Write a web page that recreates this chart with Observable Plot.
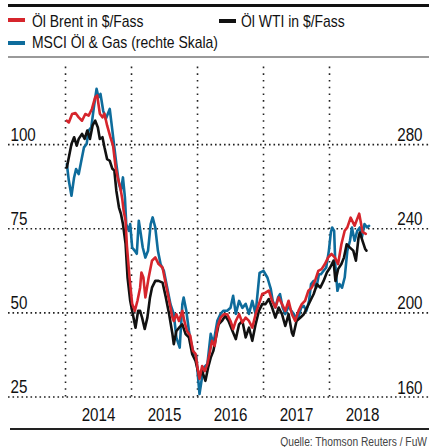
<!DOCTYPE html>
<html>
<head>
<meta charset="utf-8">
<script src="https://cdn.jsdelivr.net/npm/d3@7"></script>
<script src="https://cdn.jsdelivr.net/npm/@observablehq/plot@0.6"></script>
<style>
  html, body { margin: 0; padding: 0; background: #fff; }
  body { width: 429px; height: 447px; position: relative; overflow: hidden;
         font-family: "Liberation Sans", Arial, sans-serif; color: #111; }
  .abs { position: absolute; }
  .lg { position: absolute; font-size: 17px; line-height: 17px; white-space: nowrap; color: #111;
        transform: scaleX(0.82); transform-origin: 0 50%; }
  .sw { position: absolute; width: 17px; }
  #chart { position: absolute; left: 0; top: 60px; }
</style>
</head>
<body>
<div class="abs" style="left:8px; top:4px; width:421px; height:3.3px; background:#111"></div>
<div class="sw" style="left:8px; top:18px; height:4px; background:#d6252c"></div>
<div class="lg" style="left:32px; top:13px">Öl Brent in $/Fass</div>
<div class="sw" style="left:219px; top:18.5px; height:4px; background:#111"></div>
<div class="lg" style="left:241px; top:13px">Öl WTI in $/Fass</div>
<div class="sw" style="left:8px; top:40.5px; height:4px; background:#0e6c9c"></div>
<div class="lg" style="left:32px; top:34px">MSCI Öl &amp; Gas (rechte Skala)</div>
<div class="abs" style="left:8px; top:56px; width:421px; height:1.5px; background:#9a9a9a"></div>
<div id="chart"></div>
<div class="abs" style="left:10px; top:427.5px; width:419px; height:2px; background:#222"></div>
<div class="abs" style="right:2px; top:435.5px; font-size:12.5px; line-height:12px; color:#444; white-space:nowrap; transform:scaleX(0.82); transform-origin:100% 50%">Quelle: Thomson Reuters / FuW</div>
<script>
// Time in decimal years
const brentT = [2014.02,2014.05,2014.10,2014.15,2014.20,2014.25,2014.30,2014.35,2014.40,2014.45,2014.48,2014.52,2014.56,2014.59,2014.63,2014.68,2014.72,2014.76,2014.79,2014.83,2014.86,2014.88,2014.91,2014.93,2014.97,
  2015.01,2015.05,2015.09,2015.13,2015.15,2015.18,2015.21,2015.26,2015.31,2015.36,2015.41,2015.47,2015.52,2015.57,2015.62,2015.64,2015.68,2015.72,2015.77,2015.80,2015.84,2015.89,2015.93,2015.97,
  2016.00,2016.03,2016.07,2016.11,2016.15,2016.19,2016.22,2016.26,2016.30,2016.35,2016.40,2016.45,2016.50,2016.54,2016.58,2016.63,2016.68,2016.73,2016.78,2016.83,2016.88,2016.93,2016.98,
  2017.03,2017.08,2017.13,2017.18,2017.23,2017.28,2017.33,2017.38,2017.43,2017.48,2017.53,2017.58,2017.63,2017.68,2017.73,2017.78,2017.83,2017.88,2017.93,2017.98,
  2018.03,2018.08,2018.13,2018.18,2018.23,2018.27,2018.32,2018.38,2018.45,2018.50,2018.55];
const brentV = [107.1,106.6,109.1,109.4,108.1,107.1,109.1,108.6,110.6,114.1,114.6,109.2,108.1,109.2,105.7,102.2,99.7,93.2,90.3,87.3,83.8,80.4,77.4,69.9,60.5,
  52.7,50.6,53.6,57.5,62.0,60.5,54.6,60.5,65.5,66.5,64.5,63.5,58.5,53.6,48.6,47.6,49.6,47.6,50.6,47.6,44.6,43.2,38.7,37.8,
  33.7,30.4,34.2,32.7,34.8,38.7,41.7,40.2,45.6,48.6,49.6,49.6,47.6,45.2,47.6,49.6,47.1,48.6,47.6,45.6,49.6,52.6,55.6,
  56.0,56.6,53.6,51.6,54.6,52.6,50.6,53.6,49.6,47.6,50.6,52.6,53.6,56.6,57.5,59.5,62.5,63.0,64.5,66.5,
  67.5,66.5,64.5,70.4,74.4,75.4,78.3,75.9,79.5,74.1,73.5];

const wtiT = [2014.02,2014.05,2014.09,2014.13,2014.17,2014.20,2014.25,2014.29,2014.33,2014.37,2014.41,2014.45,2014.49,2014.52,2014.56,2014.59,2014.63,2014.67,2014.71,2014.74,2014.77,2014.81,2014.84,2014.87,2014.91,2014.94,2014.98,
  2015.02,2015.06,2015.10,2015.13,2015.16,2015.20,2015.24,2015.28,2015.31,2015.36,2015.41,2015.47,2015.52,2015.57,2015.62,2015.64,2015.68,2015.72,2015.77,2015.82,2015.87,2015.92,2015.97,
  2016.03,2016.07,2016.12,2016.16,2016.20,2016.24,2016.27,2016.32,2016.37,2016.42,2016.47,2016.53,2016.58,2016.63,2016.68,2016.73,2016.78,2016.83,2016.88,2016.93,2016.98,
  2017.03,2017.08,2017.13,2017.18,2017.23,2017.28,2017.33,2017.38,2017.43,2017.45,2017.50,2017.56,2017.61,2017.66,2017.71,2017.76,2017.81,2017.86,2017.91,2017.96,
  2018.01,2018.06,2018.09,2018.13,2018.18,2018.22,2018.26,2018.31,2018.36,2018.40,2018.44,2018.46,2018.50,2018.54,2018.56];
const wtiV = [93.2,96.2,100.2,102.2,99.7,101.7,103.2,101.7,104.2,101.7,105.7,107.1,105.1,101.7,102.2,99.2,95.7,95.2,92.8,92.3,86.3,81.3,79.4,76.4,70.5,60.5,53.6,
  49.6,45.6,50.6,50.6,48.6,45.2,48.6,54.6,57.5,59.5,59.5,59.0,54.6,49.6,43.7,40.7,44.6,45.6,46.6,43.7,42.7,37.7,35.7,
  30.9,32.7,29.8,33.7,36.7,38.7,41.7,46.6,47.6,49.1,47.6,44.6,42.2,46.6,47.6,42.7,45.6,41.7,46.6,50.6,52.6,
  52.6,54.1,51.6,48.6,51.6,49.6,46.1,49.6,44.1,43.2,47.6,48.6,49.6,51.6,53.6,55.6,58.5,57.5,59.5,62.0,
  63.5,65.5,59.5,63.0,64.5,66.5,70.4,69.4,68.5,65.5,72.4,73.9,71.4,69.0,68.5];

const msciT = [2014.02,2014.05,2014.09,2014.13,2014.16,2014.20,2014.24,2014.28,2014.32,2014.35,2014.39,2014.43,2014.47,2014.50,2014.53,2014.57,2014.61,2014.64,2014.67,2014.71,2014.74,2014.77,2014.81,2014.84,2014.87,2014.90,2014.92,2014.96,2014.98,
  2015.01,2015.05,2015.08,2015.11,2015.14,2015.17,2015.21,2015.25,2015.29,2015.32,2015.36,2015.40,2015.44,2015.49,2015.54,2015.59,2015.64,2015.68,2015.73,2015.77,2015.79,2015.83,2015.87,2015.89,2015.94,2015.98,
  2016.03,2016.09,2016.15,2016.20,2016.24,2016.30,2016.35,2016.39,2016.45,2016.50,2016.54,2016.58,2016.63,2016.68,2016.73,2016.78,2016.83,2016.88,2016.94,
  2017.00,2017.06,2017.11,2017.14,2017.18,2017.22,2017.25,2017.29,2017.33,2017.38,2017.42,2017.46,2017.50,2017.53,2017.57,2017.61,2017.65,2017.69,2017.72,2017.76,2017.80,2017.84,2017.87,2017.91,2017.95,2017.99,
  2018.02,2018.04,2018.07,2018.09,2018.12,2018.15,2018.19,2018.23,2018.27,2018.31,2018.34,2018.38,2018.42,2018.46,2018.49,2018.53,2018.57,2018.60];
const msciV = [270.8,262.9,255.7,264.4,268.4,266.0,272.4,278.7,280.3,286.7,288.2,297.8,306.5,302.5,304.1,296.2,292.2,294.6,297.0,286.7,278.7,270.8,261.3,258.1,264.4,254.9,242.2,239.0,242.2,
  231.1,229.5,228.1,243.8,237.6,231.1,226.3,229.5,242.2,245.4,240.6,229.5,223.2,220.0,212.1,204.1,199.4,188.2,183.5,204.1,207.3,201.0,191.4,187.6,181.0,179.5,
  161.4,173.8,175.7,190.0,185.2,196.2,199.5,201.0,201.0,202.4,208.1,199.5,205.7,202.4,204.3,199.5,205.7,199.5,219.0,
  220.0,216.7,211.4,205.7,202.5,207.3,208.9,202.5,199.4,203.3,201.0,199.4,197.0,197.8,202.5,203.3,201.0,205.7,213.7,215.2,212.0,218.4,218.4,220.0,221.6,229.5,
  238.2,240.6,239.0,221.6,210.5,213.7,212.0,216.8,229.5,234.3,240.6,234.3,239.0,240.6,235.9,242.2,240.6,241.4];

const yearTicks = [2014, 2015, 2016, 2017, 2018];
const leftTicks = [25, 50, 75, 100];
const rightTicks = [160, 200, 240, 280];

// right scale 160..280 maps onto left 25..100
const toLeft = m => 25 + (m - 160) / 1.6;

const brent = brentT.map((t, i) => ({t, v: brentV[i]}));
const wti = wtiT.map((t, i) => ({t, v: wtiV[i]}));
const msci = msciT.map((t, i) => ({t, v: toLeft(msciV[i])}));

const X0 = 2013.136, X1 = 2019.515;
const font = '"Liberation Sans", Arial, sans-serif';

const chart = Plot.plot({
  width: 429,
  height: 364,
  marginLeft: 8,
  marginRight: 0,
  marginTop: 0,
  marginBottom: 27.5,
  x: {domain: [X0, X1], axis: null},
  y: {domain: [25, 125], axis: null},
  style: {fontFamily: font, background: "transparent", color: "#111", overflow: "visible"},
  marks: [
    Plot.ruleY(leftTicks, {stroke: "#222", strokeWidth: 1.6, strokeDasharray: "1.6,2.9"}),
    Plot.ruleX(yearTicks, {y1: 25, y2: 124.4, stroke: "#222", strokeWidth: 1.6, strokeDasharray: "1.6,5.1"}),
    Plot.line(msci, {x: "t", y: "v", stroke: "#0e6c9c", strokeWidth: 2.6, strokeLinejoin: "round"}),
    Plot.line(wti, {x: "t", y: "v", stroke: "#111", strokeWidth: 2.6, strokeLinejoin: "round"}),
    Plot.line(brent, {x: "t", y: "v", stroke: "#d6252c", strokeWidth: 2.6, strokeLinejoin: "round"}),
    Plot.text(leftTicks, {x: X0, y: d => d, text: d => String(d), textAnchor: "start", lineAnchor: "bottom",
      dx: 2, dy: -4, fontSize: 18.5, fill: "#111"}),
    Plot.text(rightTicks, {x: X1, y: d => toLeft(d), text: d => String(d), textAnchor: "end", lineAnchor: "bottom",
      dx: -7, dy: -3.5, fontSize: 18.5, fill: "#111"}),
    Plot.text(yearTicks, {x: d => d + 0.5, y: 25, text: d => String(d), lineAnchor: "top",
      dy: 11, fontSize: 18.5, fill: "#111"})
  ]
});

// narrow the label glyphs horizontally around their anchor points (condensed look)
chart.querySelectorAll("text").forEach(el => {
  const tr = el.getAttribute("transform");
  if (tr) {
    el.setAttribute("transform", tr + " scale(0.82,1)");
  } else {
    const x = +el.getAttribute("x") || 0, y = +el.getAttribute("y") || 0;
    el.setAttribute("transform", `translate(${x},${y}) scale(0.82,1) translate(${-x},${-y})`);
  }
});

document.getElementById("chart").appendChild(chart);
</script>
</body>
</html>
